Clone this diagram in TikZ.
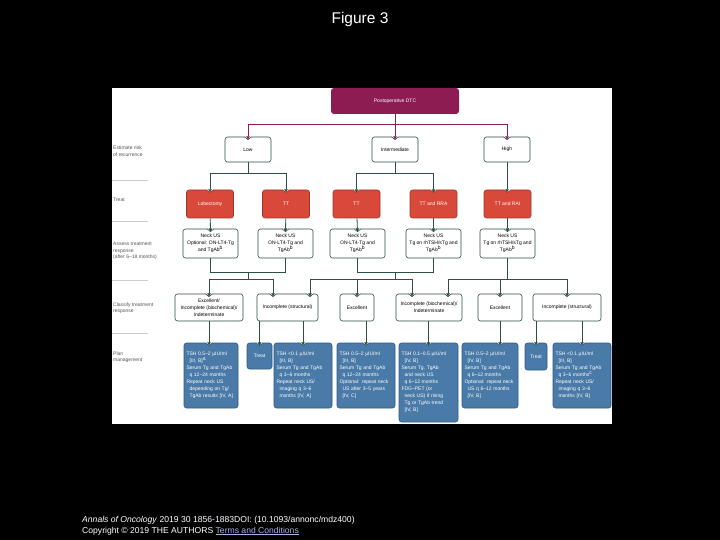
\documentclass[tikz,border=0pt]{standalone}
\usepackage{fontspec}
\setmainfont{Liberation Sans}
\usetikzlibrary{arrows.meta,calc}
\definecolor{postfill}{RGB}{140,28,82}
\definecolor{linegreen}{RGB}{47,79,63}
\definecolor{treatred}{RGB}{216,73,58}
\definecolor{planblue}{RGB}{74,123,168}
\definecolor{planedge}{RGB}{44,90,133}
\definecolor{stagegray}{RGB}{85,85,85}
\definecolor{rulegray}{RGB}{205,205,205}
\definecolor{linkblue}{RGB}{170,176,225}

% V-shaped indent in a box top where an arrow enters
\newcommand{\boxnotch}[2]{%
  \fill[white] ($(#1)+(-3.5,-0.8)$) -- ($(#1)+(3.5,-0.8)$) -- ($(#1)+(3.5,0)$)
    -- ($(#1)+(0,3)$) -- ($(#1)+(-3.5,0)$) -- cycle;
  \draw[#2, line width=0.6pt] ($(#1)+(-3.5,0)$) -- ($(#1)+(0,3)$) -- ($(#1)+(3.5,0)$);}

\tikzset{
  boxtext/.style={font=\fontsize{5}{7}\selectfont, align=center, inner sep=1pt},
  postbox/.style={boxtext, fill=postfill, text=white, rounded corners=3pt,
    minimum width=128pt, minimum height=26pt},
  riskbox/.style={boxtext, draw=linegreen, fill=white, line width=0.6pt,
    rounded corners=2.5pt, minimum width=46pt, minimum height=25pt},
  treatbox/.style={boxtext, draw=treatred!75!black, fill=treatred, text=white,
    line width=0.6pt, rounded corners=2.5pt, minimum width=47pt, minimum height=28pt},
  assessbox/.style={riskbox, minimum width=55pt, minimum height=29pt},
  respbox/.style={riskbox, minimum height=27pt},
  planbox/.style={boxtext, align=left, draw=planedge, fill=planblue, text=white,
    line width=0.6pt, rounded corners=2.5pt, inner xsep=2.5pt, minimum height=65pt},
  smallplan/.style={boxtext, draw=planedge, fill=planblue, text=white,
    line width=0.6pt, rounded corners=2.5pt, minimum height=26pt},
  stagelabel/.style={font=\fontsize{5}{6.5}\selectfont, text=stagegray, align=left,
    anchor=west, inner sep=0pt},
  link/.style={draw=linegreen, line width=0.8pt},
  postlink/.style={draw=postfill, line width=0.8pt},
}

\begin{document}
\begin{tikzpicture}[x=1pt, y=-1pt, >={Triangle[length=3.2pt,width=3.6pt]}]
    % Backdrop and panel
    \useasboundingbox (0,0) rectangle (720,540);
    \fill[black] (0,0) rectangle (720,540);
    \fill[white] (112,88) rectangle (612,424);
    \node[text=white, font=\fontsize{15.5}{18}\selectfont, anchor=base] (title) at (360,24) {Figure 3};

    % Stage labels
    \node[stagelabel] (lblrisk) at (113,151) {Estimate risk\\of recurrence};
    \draw[rulegray, line width=0.6pt] (112,180) -- (148,180);
    \node[stagelabel] (lbltreat) at (113,200) {Treat};
    \draw[rulegray, line width=0.6pt] (112,221) -- (148,221);
    \node[stagelabel] (lblassess) at (113,251) {Assess treatment\\response\\(after 6--18 months)};
    \draw[rulegray, line width=0.6pt] (112,280) -- (148,280);
    \node[stagelabel] (lblclass) at (113,308) {Classify treatment\\response};
    \draw[rulegray, line width=0.6pt] (112,333) -- (148,333);
    \node[stagelabel] (lblplan) at (113,357) {Plan\\management};

    % Risk of recurrence
    \node[postbox] (post) at (395,101) {Postoperative DTC};
    \node[riskbox] (low) at (248,149.5) {Low};
    \node[riskbox] (inter) at (395,149.5) {Intermediate};
    \node[riskbox] (high) at (507,149.5) {High};

    % Treatment
    \node[treatbox] (lob) at (210,204) {Lobectomy};
    \node[treatbox] (tta) at (286,204) {TT};
    \node[treatbox] (ttb) at (356.5,204) {TT};
    \node[treatbox] (ttrra) at (433.5,204) {TT and RRA};
    \node[treatbox] (ttrai) at (507.5,204) {TT and RAI};

    % Assessment
    \node[assessbox] (asa) at (210.5,243.5) {Neck US\\Optional: ON-LT4-Tg\\and TgAb\textsuperscript{b}};
    \node[assessbox] (asb) at (285.5,243.5) {Neck US\\ON-LT4-Tg and\\TgAb\textsuperscript{b}};
    \node[assessbox] (asc) at (357.5,243.5) {Neck US\\ON-LT4-Tg and\\TgAb\textsuperscript{b}};
    \node[assessbox] (asd) at (433.5,243.5) {Neck US\\Tg on rhTSH/sTg and\\TgAb\textsuperscript{b}};
    \node[assessbox] (ase) at (507.5,243.5) {Neck US\\Tg on rhTSH/sTg and\\TgAb\textsuperscript{b}};

    % Response classes
    \node[respbox, minimum width=68pt] (rexa) at (209,307.5) {Excellent/\\Incomplete (biochemical)/\\Indeterminate};
    \node[respbox, minimum width=61pt] (rstra) at (287.5,307.5) {Incomplete (structural)};
    \node[respbox, minimum width=34pt] (rexb) at (357,307.5) {Excellent};
    \node[respbox, minimum width=66pt] (rbio) at (429,307.5) {Incomplete (biochemical)/\\Indeterminate};
    \node[respbox, minimum width=44pt] (rexc) at (500,307.5) {Excellent};
    \node[respbox, minimum width=68pt] (rstrb) at (567,307.5) {Incomplete (structural)};

    % Management plans
    \node[planbox, text width=49pt] (pla) at (211,375.5) {TSH 0.5--2 µIU/ml\\\hspace*{3pt}[III, B]\textsuperscript{a}\\Serum Tg and TgAb\\\hspace*{3pt}q 12--24 months\\Repeat neck US\\\hspace*{3pt}depending on Tg/\\\hspace*{3pt}TgAb results [IV, A]};
    \node[smallplan, minimum width=25pt] (trta) at (259.5,356) {Treat};
    \node[planbox, text width=53pt] (plb) at (303,375.5) {TSH {<}0.1 µIU/ml\\\hspace*{3pt}[III, B]\\Serum Tg and TgAb\\\hspace*{3pt}q 3--6 months\\Repeat neck US/\\\hspace*{3pt}imaging q 3--6\\\hspace*{3pt}months [IV, A]};
    \node[planbox, text width=53pt] (plc) at (366,375.5) {TSH 0.5--2 µIU/ml\\\hspace*{3pt}[III, B]\\Serum Tg and TgAb\\\hspace*{3pt}q 12--24 months\\Optional: repeat neck\\\hspace*{3pt}US after 3--5 years\\\hspace*{3pt}[IV, C]};
    \node[planbox, text width=54pt, minimum height=79pt] (pld) at (428.5,382.5) {TSH 0.1--0.5 µIU/ml\\\hspace*{3pt}[IV, B]\\Serum Tg, TgAb\\\hspace*{3pt}and neck US\\\hspace*{3pt}q 6--12 months\\FDG--PET (or\\\hspace*{3pt}neck US) if rising\\\hspace*{3pt}Tg or TgAb trend\\\hspace*{3pt}[IV, B]};
    \node[planbox, text width=51pt] (ple) at (490,375.5) {TSH 0.5--2 µIU/ml\\\hspace*{3pt}[IV, B]\\Serum Tg and TgAb\\\hspace*{3pt}q 6--12 months\\Optional: repeat neck\\\hspace*{3pt}US q 6--12 months\\\hspace*{3pt}[IV, B]};
    \node[smallplan, minimum width=22pt, minimum height=27pt] (trtb) at (536,356.5) {Treat};
    \node[planbox, text width=53pt] (plf) at (582,375.5) {TSH {<}0.1 µIU/ml\\\hspace*{3pt}[III, B]\\Serum Tg and TgAb\\\hspace*{3pt}q 3--6 months\textsuperscript{c}\\Repeat neck US/\\\hspace*{3pt}imaging q 3--6\\\hspace*{3pt}months [IV, B]};

    % Entry points that sit off a box centre
    \coordinate (instra) at (273,0 |- rstra.north);
    \coordinate (instrb) at (310,0 |- rstra.north);
    \coordinate (inbioa) at (412,0 |- rbio.north);
    \coordinate (inbiob) at (448,0 |- rbio.north);
    \coordinate (inpla) at (rexa.south |- pla.north);
    \coordinate (inple) at (rexc.south |- ple.north);

    % Notches
    \foreach \n in {low,inter,high,asa,asb,asc,asd,ase,rexa,rexb,rexc,rstrb}
        \boxnotch{\n.north}{linegreen};
    \foreach \n in {instra,instrb,inbioa,inbiob}
        \boxnotch{\n}{linegreen};
    \foreach \n in {lob,tta,ttb,ttrra,ttrai}
        \boxnotch{\n.north}{treatred!75!black};
    \foreach \n in {trta,plb,plc,pld,trtb,plf}
        \boxnotch{\n.north}{planedge};
    \boxnotch{inpla}{planedge};
    \boxnotch{inple}{planedge};

    % Risk split
    \draw[postlink] (post.south) -- ++(0,10) coordinate (riskbus);
    \foreach \n in {low,inter,high}
        \draw[postlink, ->, postfill] (riskbus) -| ([yshift=-2.8pt]\n.north);

    % Risk to treatment
    \draw[link] (low.south) -- ++(0,11) coordinate (lowbus);
    \draw[link, ->] (lowbus) -| ([yshift=-2.8pt]lob.north);
    \draw[link, ->] (lowbus) -| ([yshift=-2.8pt]tta.north);
    \draw[link] (inter.south) -- ++(0,11) coordinate (interbus);
    \draw[link, ->] (interbus) -| ([yshift=-2.8pt]ttb.north);
    \draw[link, ->] (interbus) -| ([yshift=-2.8pt]ttrra.north);
    \draw[link, ->] (high.south) -- ([yshift=-2.8pt]high.south |- ttrai.north);

    % Treatment to assessment
    \draw[link, ->] (lob) -- ([yshift=-2.8pt]asa.north);
    \draw[link, ->] (tta) -- ([yshift=-2.8pt]asb.north);
    \draw[link, ->] (ttb) -- ([yshift=-2.8pt]asc.north);
    \draw[link, ->] (ttrra) -- ([yshift=-2.8pt]asd.north);
    \draw[link, ->] (ttrai) -- ([yshift=-2.8pt]ase.north);

    % Assessment to response
    \draw[link] (asa.south) -- ++(0,14) -| (asb.south);
    \coordinate (lowjoin) at ($(asa.south)!0.5!(asb.south)+(0,14)$);
    \draw[link] (lowjoin) -- ++(0,7) coordinate (lowresp);
    \draw[link, ->] (lowresp) -| ([yshift=-2.8pt]rexa.north);
    \draw[link, ->] (lowresp) -| ([yshift=-2.8pt]instra);
    \draw[link] (asc.south) -- ++(0,14) -| (asd.south);
    \coordinate (interjoin) at ($(asc.south)!0.5!(asd.south)+(0,14)$);
    \draw[link] (interjoin) -- ++(0,7) coordinate (interresp);
    \draw[link, ->] (interresp) -| ([yshift=-2.8pt]instrb);
    \draw[link, ->] (interresp) -| ([yshift=-2.8pt]rexb.north);
    \draw[link, ->] (interresp) -| ([yshift=-2.8pt]inbioa);
    \draw[link] (ase.south) -- ++(0,21) coordinate (highresp);
    \draw[link, ->] (highresp) -| ([yshift=-2.8pt]inbiob);
    \draw[link, ->] (highresp) -| ([yshift=-2.8pt]rexc.north);
    \draw[link, ->] (highresp) -| ([yshift=-2.8pt]rstrb.north);

    % Response to management
    \draw[link, ->] (rexa.south) -- ([yshift=-2.8pt]inpla);
    \draw[link, ->] (trta.north |- rstra.south) -- ([yshift=-2.8pt]trta.north);
    \draw[link, ->] (plb.north |- rstra.south) -- ([yshift=-2.8pt]plb.north);
    \draw[link, ->] (plc.north |- rexb.south) -- ([yshift=-2.8pt]plc.north);
    \draw[link, ->] (pld.north |- rbio.south) -- ([yshift=-2.8pt]pld.north);
    \draw[link, ->] (rexc.south) -- ([yshift=-2.8pt]inple);
    \draw[link, ->] (trtb.north |- rstrb.south) -- ([yshift=-2.8pt]trtb.north);
    \draw[link, ->] (plf.north |- rstrb.south) -- ([yshift=-2.8pt]plf.north);

    % Source line
    \node[text=white, font=\fontsize{8.6}{10}\selectfont, anchor=base west, inner sep=0pt] (source) at (82,522)
        {\textit{Annals of Oncology} 2019 30 1856-1883DOI: (10.1093/annonc/mdz400)};
    \node[text=white, font=\fontsize{8.6}{10}\selectfont, anchor=base west, inner sep=0pt] (rights) at (82,533)
        {Copyright © 2019 THE AUTHORS \textcolor{linkblue}{\underline{Terms and Conditions}}};
\end{tikzpicture}
\end{document}
